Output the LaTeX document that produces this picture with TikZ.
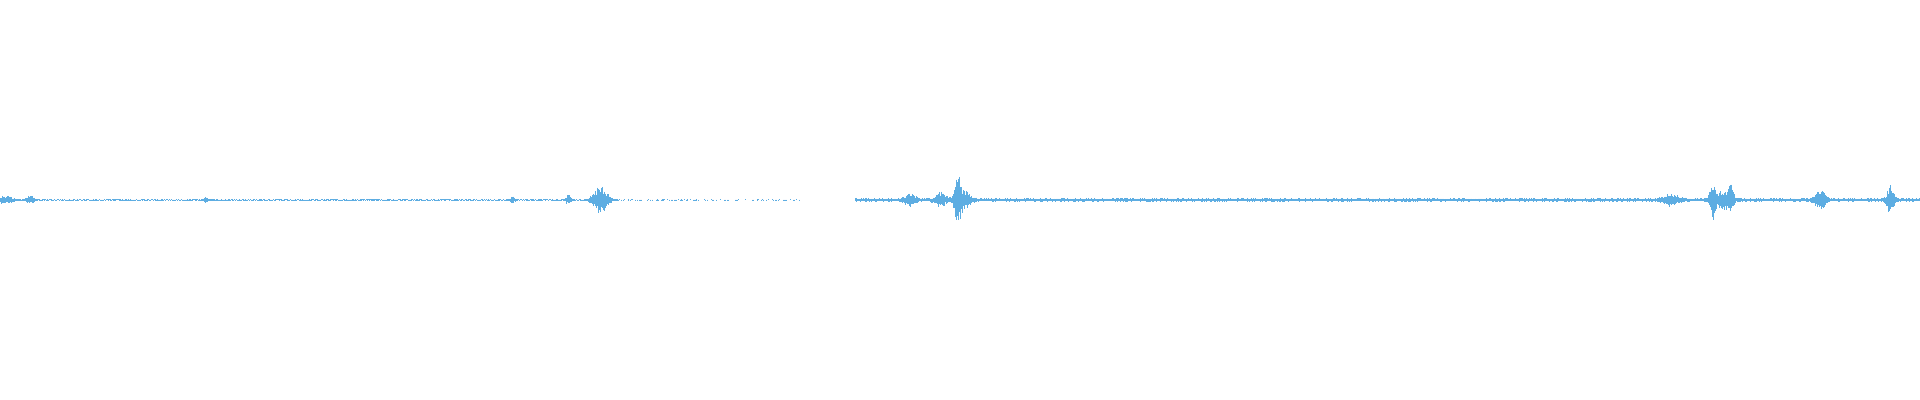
\documentclass[tikz,border=0pt]{standalone}
\definecolor{wave}{RGB}{93,173,226}
\begin{document}
\begin{tikzpicture}[x=0.01cm,y=0.01cm,
    sample/.style={wave,line width=0.012cm}]
    %%% Frame %%%
    \useasboundingbox (0,0) rectangle (1920,400);
    \pgfmathsetseed{7}
    %%% Waveform %%%
    \foreach \x in {0,...,1919}{
      % base level per section
      \pgfmathsetmacro{\base}{\x<620 ? 0.7 : (\x<800 ? 0.6 : (\x<855 ? 0 : 1.8))}
      \pgfmathsetmacro{\keep}{(\x>=620 && \x<800) ? (rnd>0.55 ? 1 : 0) : (\base>0 ? 1 : 0)}
      \xdef\amp{\base}
      % bursts: centre/height/width
      \foreach \c/\a/\w in {5/4/8, 30/4/5, 205/3/3, 512/3/3, 568/5/3, 600/14/8,
                           910/6/6, 940/7/6, 957/24/3, 962/10/8, 1670/5/10,
                           1712/16/3, 1722/8/10, 1730/12/3, 1820/9/6, 1890/14/4}{
        \pgfmathsetmacro{\d}{min(6,abs(\x-\c)/\w)}
        \pgfmathsetmacro{\newamp}{\amp+\a*exp(-\d*\d)}
        \xdef\amp{\newamp}
      }
      \pgfmathsetmacro{\up}{\amp*(0.45+0.55*rnd)}
      \pgfmathsetmacro{\dn}{\amp*(0.45+0.55*rnd)}
      \ifdim\keep pt>0.5pt
        \draw[sample] (\x+0.5,200+\up) -- (\x+0.5,200-\dn);
      \fi
    }
\end{tikzpicture}
\end{document}
